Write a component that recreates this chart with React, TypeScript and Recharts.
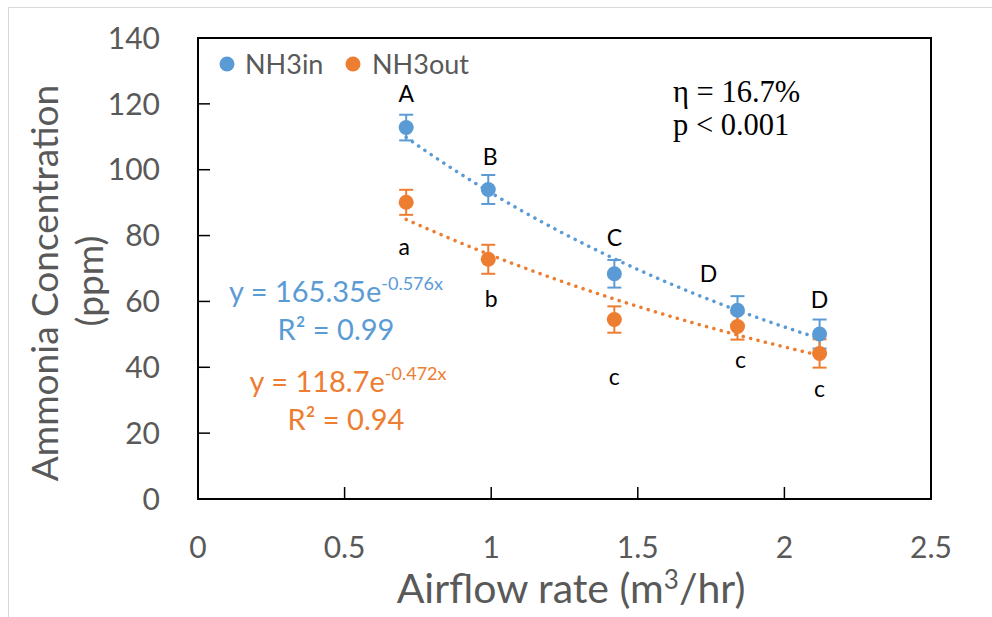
import React from 'react';
import {
  ComposedChart,
  Scatter,
  Line,
  XAxis,
  YAxis,
  ErrorBar,
  ReferenceArea,
} from 'recharts';

// Airflow rates (m³/hr) at which ammonia was sampled
const airflow = [0.71, 0.99, 1.42, 1.84, 2.12];

// Inlet ammonia concentration (ppm) and its error
const nh3In = [112.8, 94.0, 68.4, 57.3, 50.1];
const nh3InErr = [3.9, 4.4, 4.2, 4.3, 4.4];

// Outlet ammonia concentration (ppm) and its error
const nh3Out = [90.1, 72.8, 54.5, 52.4, 44.2];
const nh3OutErr = [3.8, 4.4, 4.0, 4.0, 4.3];

// Significance groups
const inGroups = ['A', 'B', 'C', 'D', 'D'];
const outGroups = ['a', 'b', 'c', 'c', 'c'];

// Exponential fits y = a·e^(b·x)
const fitIn = { a: 165.35, b: -0.576, r2: '0.99' };
const fitOut = { a: 118.7, b: -0.472, r2: '0.94' };

const xTicks = [0, 0.5, 1, 1.5, 2, 2.5];
const yTicks = [0, 20, 40, 60, 80, 100, 120, 140];

// Pixel nudges for the group letters relative to each marker
const inLabelNudge = [
  { dx: 0, dy: -26 },
  { dx: 2, dy: -24 },
  { dx: 0, dy: -28 },
  { dx: -29, dy: -28 },
  { dx: 0, dy: -26 },
];
const outLabelNudge = [
  { dx: -2, dy: 53 },
  { dx: 3, dy: 48 },
  { dx: 0, dy: 65 },
  { dx: 3, dy: 42 },
  { dx: 0, dy: 44 },
];

const BLUE = '#5B9BD5';
const ORANGE = '#ED7D31';
const GRAY = '#595959';
const FONT = 'Lato, "Open Sans", sans-serif';
const SERIF = '"Liberation Serif", serif';

const inRows = airflow.map((x, i) => ({ x, y: nh3In[i], err: nh3InErr[i], group: inGroups[i], i }));
const outRows = airflow.map((x, i) => ({ x, y: nh3Out[i], err: nh3OutErr[i], group: outGroups[i], i }));

// Fitted curve across the measured airflow range
const curve = (fit: { a: number; b: number }) => {
  const x0 = airflow[0];
  const x1 = airflow[airflow.length - 1];
  const n = 40;
  return Array.from({ length: n + 1 }, (_, k) => {
    const x = x0 + ((x1 - x0) * k) / n;
    return { x, y: fit.a * Math.exp(fit.b * x) };
  });
};
const inCurve = curve(fitIn);
const outCurve = curve(fitOut);

const makeShape = (color: string, nudges: { dx: number; dy: number }[]) => (p: any) => {
  const n = nudges[p.payload.i];
  return (
    <g>
      <circle cx={p.cx} cy={p.cy} r={7.5} fill={color} />
      <text
        x={p.cx + n.dx}
        y={p.cy + n.dy}
        textAnchor="middle"
        fontFamily={FONT}
        fontSize={23}
        fill="#000"
      >
        {p.payload.group}
      </text>
    </g>
  );
};

const tickStyle = { fontFamily: FONT, fontSize: 30, fill: GRAY };

export default function App() {
  return (
    <div style={{ position: 'absolute', left: 0, top: 0, width: 992, height: 617, background: '#fff' }}>
      <div
        style={{
          position: 'absolute',
          left: 8,
          top: 7,
          right: 0,
          bottom: 0,
          borderLeft: '1.5px solid #d9d9d9',
          borderTop: '1.5px solid #d9d9d9',
        }}
      />
      <ComposedChart
        width={992}
        height={617}
        margin={{ top: 38, right: 61, bottom: 38, left: 98 }}
        style={{ position: 'absolute', left: 0, top: 0 }}
      >
        <XAxis
          type="number"
          dataKey="x"
          domain={[0, 2.5]}
          ticks={xTicks}
          height={80}
          tickSize={-12}
          tickMargin={50}
          tick={tickStyle}
          axisLine={{ stroke: '#000', strokeWidth: 2 }}
          tickLine={{ stroke: '#000', strokeWidth: 1.5 }}
          allowDataOverflow
        />
        <YAxis
          type="number"
          domain={[0, 140]}
          ticks={yTicks}
          width={100}
          tickSize={-12}
          tickMargin={50}
          tick={tickStyle}
          axisLine={{ stroke: '#000', strokeWidth: 2 }}
          tickLine={{ stroke: '#000', strokeWidth: 1.5 }}
          allowDataOverflow
        />
        <ReferenceArea x1={0} x2={2.5} y1={0} y2={140} fill="none" stroke="#000" strokeWidth={2} />
        <Line
          data={inCurve}
          dataKey="y"
          type="monotone"
          stroke={BLUE}
          strokeWidth={3.5}
          strokeDasharray="0.1 7.5"
          strokeLinecap="round"
          dot={false}
          activeDot={false}
          legendType="none"
          isAnimationActive={false}
        />
        <Line
          data={outCurve}
          dataKey="y"
          type="monotone"
          stroke={ORANGE}
          strokeWidth={3.5}
          strokeDasharray="0.1 7.5"
          strokeLinecap="round"
          dot={false}
          activeDot={false}
          legendType="none"
          isAnimationActive={false}
        />
        <Scatter data={inRows} dataKey="y" fill={BLUE} shape={makeShape(BLUE, inLabelNudge)} isAnimationActive={false}>
          <ErrorBar dataKey="err" direction="y" width={7} stroke={BLUE} strokeWidth={2} />
        </Scatter>
        <Scatter data={outRows} dataKey="y" fill={ORANGE} shape={makeShape(ORANGE, outLabelNudge)} isAnimationActive={false}>
          <ErrorBar dataKey="err" direction="y" width={7} stroke={ORANGE} strokeWidth={2} />
        </Scatter>
      </ComposedChart>
      <svg
        width={992}
        height={617}
        style={{ position: 'absolute', left: 0, top: 0, pointerEvents: 'none' }}
      >
        {/* legend */}
        <circle cx={227} cy={64} r={7.5} fill={BLUE} />
        <text x={245} y={74} fontFamily={FONT} fontSize={27} fill={GRAY}>NH3in</text>
        <circle cx={353} cy={64} r={7.5} fill={ORANGE} />
        <text x={372} y={74} fontFamily={FONT} fontSize={27} fill={GRAY}>NH3out</text>

        {/* axis titles */}
        <text
          x={58}
          y={283}
          transform="rotate(-90, 58, 283)"
          textAnchor="middle"
          fontFamily={FONT}
          fontSize={37}
          fill={GRAY}
        >
          Ammonia Concentration
        </text>
        <text
          x={103}
          y={281}
          transform="rotate(-90, 103, 281)"
          textAnchor="middle"
          fontFamily={FONT}
          fontSize={37}
          fill={GRAY}
        >
          (ppm)
        </text>
        <text x={571} y={603} textAnchor="middle" fontFamily={FONT} fontSize={41} fill={GRAY}>
          Airflow rate (m<tspan dy={-14} fontSize={26}>3</tspan>
          <tspan dy={14}>/hr)</tspan>
        </text>

        {/* fitted equations */}
        <text x={336} y={302} textAnchor="middle" fontFamily={FONT} fontSize={29} fill={BLUE}>
          y = {fitIn.a}e<tspan dy={-12} fontSize={18}>{fitIn.b}x</tspan>
        </text>
        <text x={336} y={340} textAnchor="middle" fontFamily={FONT} fontSize={29} fill={BLUE}>
          R² = {fitIn.r2}
        </text>
        <text x={348} y={392} textAnchor="middle" fontFamily={FONT} fontSize={29} fill={ORANGE}>
          y = {fitOut.a}e<tspan dy={-12} fontSize={18}>{fitOut.b}x</tspan>
        </text>
        <text x={346} y={430} textAnchor="middle" fontFamily={FONT} fontSize={29} fill={ORANGE}>
          R² = {fitOut.r2}
        </text>

        {/* removal efficiency and significance */}
        <text x={673} y={102} fontFamily={SERIF} fontSize={30.5} fill="#000">
          η = 16.7%
        </text>
        <text x={673} y={135} fontFamily={SERIF} fontSize={30.5} fill="#000">
          p &lt; 0.001
        </text>
      </svg>
    </div>
  );
}
